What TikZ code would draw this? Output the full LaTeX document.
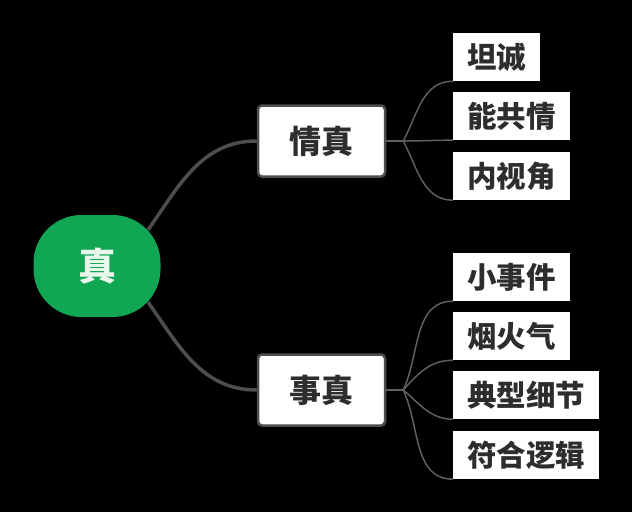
\documentclass[tikz,border=0pt]{standalone}
\usepackage{fontspec}
\newfontfamily\cjk{Noto Sans CJK SC}
\usetikzlibrary{positioning}
\definecolor{rootgreen}{RGB}{17,166,84}
\definecolor{rootink}{RGB}{232,246,236}
\definecolor{boxink}{RGB}{45,45,45}
\definecolor{trunkgray}{RGB}{78,78,78}
\definecolor{twiggray}{RGB}{95,95,95}
\tikzstyle{root}=[fill=rootgreen,rounded corners=48pt,minimum width=127pt,minimum height=102pt,text=rootink,font=\cjk\bfseries\fontsize{38}{40}\selectfont]
\tikzstyle{branch}=[draw=trunkgray,line width=2.5pt,fill=white,rounded corners=4pt,minimum width=127pt,minimum height=71pt,text=boxink,font=\cjk\bfseries\fontsize{32}{34}\selectfont]
\tikzstyle{leaf}=[fill=white,minimum height=48pt,inner xsep=14pt,inner ysep=0pt,anchor=west,text=boxink,font=\cjk\bfseries\fontsize{29.5}{31}\selectfont]
\tikzstyle{trunk}=[draw=trunkgray,line width=3.5pt]
\tikzstyle{twig}=[draw=twiggray,line width=1.5pt]

\begin{document}
\begin{tikzpicture}[x=1pt,y=-1pt]
\fill[black] (0,0) rectangle (632,512);
\useasboundingbox (0,0) rectangle (632,512);

\node[root] (zhen) at (97,266) {真};
\node[branch] (qing) at (321.5,141) {情真};
\node[branch] (shi) at (321.5,390) {事真};

% leaves of qing
\node[leaf] (tan) at (453,57) {坦诚};
\node[leaf] (neng) at (453,116) {能共情};
\node[leaf] (nei) at (453,176) {内视角};
% leaves of shi
\node[leaf] (xiao) at (453,277) {小事件};
\node[leaf] (yan) at (453,336) {烟火气};
\node[leaf] (dian) at (453,395) {典型细节};
\node[leaf] (fu) at (453,455) {符合逻辑};

\draw[trunk] ([xshift=51pt,yshift=36pt]zhen.center) to[out=55,in=180] (qing.west);
\draw[trunk] ([xshift=51pt,yshift=-36pt]zhen.center) to[out=-55,in=180] (shi.west);

\coordinate (qingFork) at ([xshift=17pt]qing.east);
\coordinate (shiFork) at ([xshift=17pt]shi.east);
\draw[twig] (qing.east) -- (qingFork);
\draw[twig] (shi.east) -- (shiFork);
\foreach \leaf/\ang in {tan/62,neng/0,nei/-62}
  \draw[twig] (qingFork) to[out=\ang,in=180] (\leaf.south west);
\foreach \leaf/\ang in {xiao/65,yan/48,dian/-40,fu/-65}
  \draw[twig] (shiFork) to[out=\ang,in=180] (\leaf.south west);
\end{tikzpicture}
\end{document}
